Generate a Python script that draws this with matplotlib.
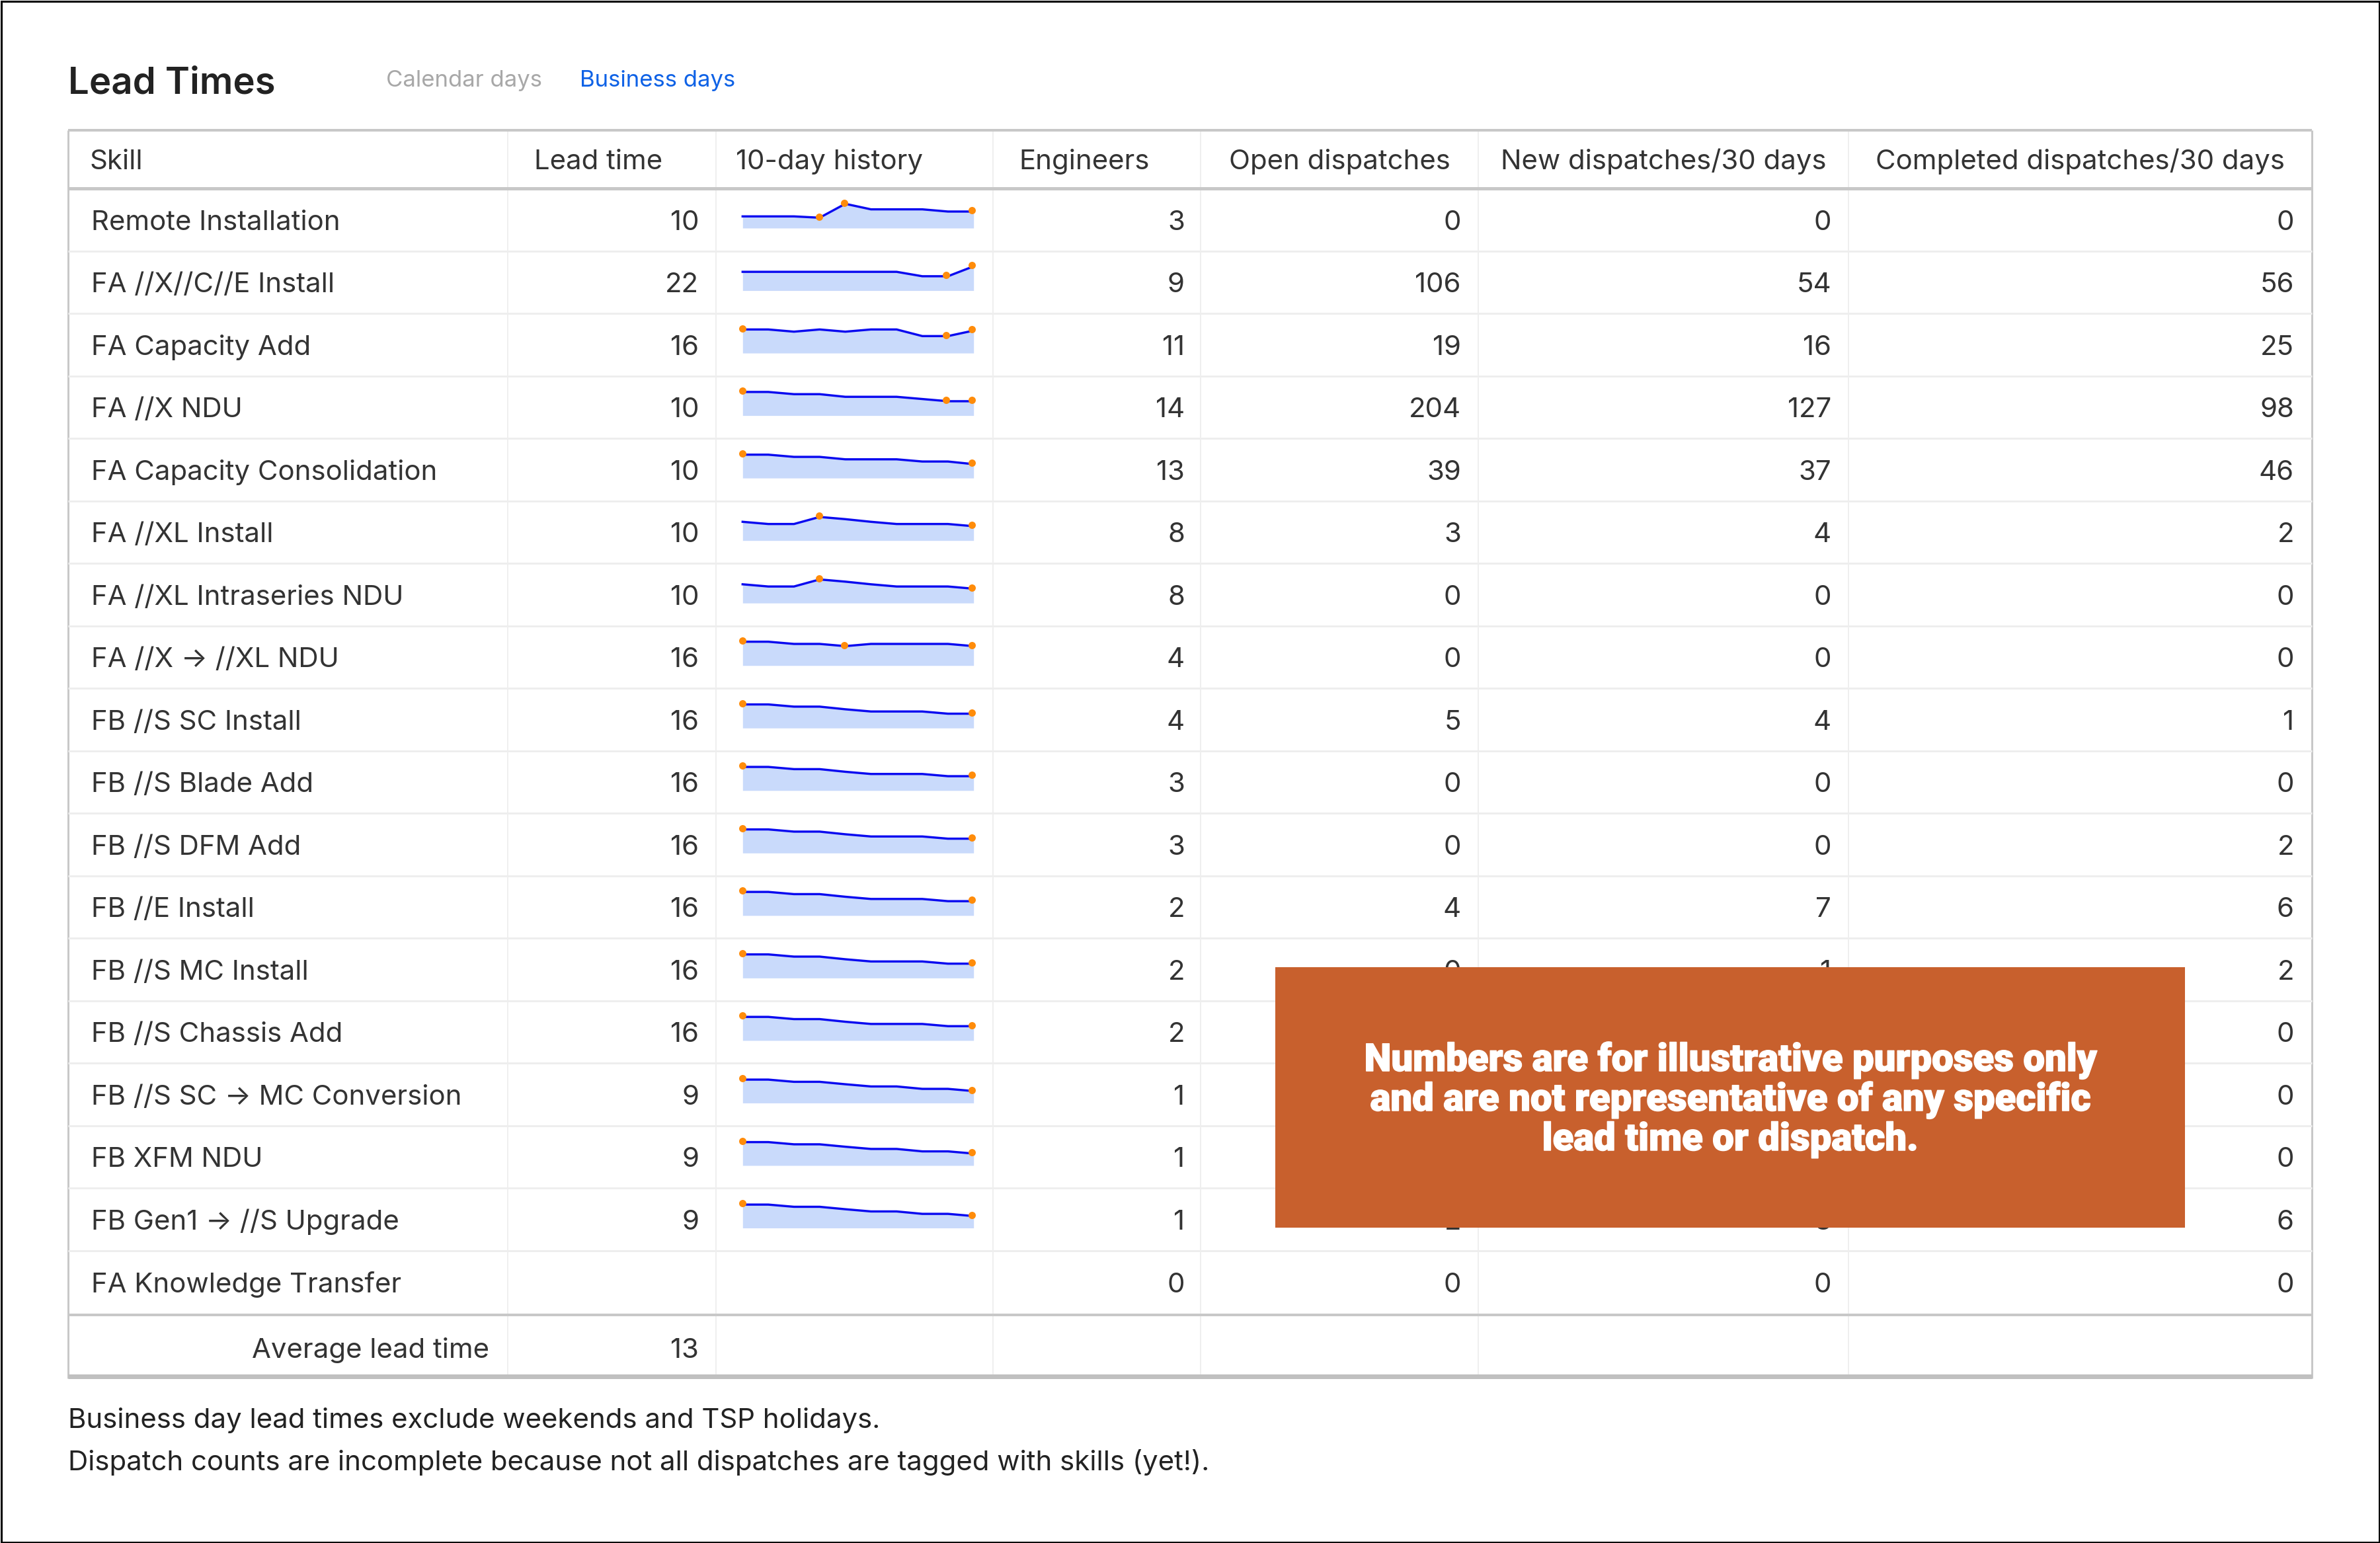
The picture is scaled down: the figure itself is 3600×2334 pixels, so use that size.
import matplotlib
matplotlib.use("Agg")
import matplotlib.pyplot as plt
import matplotlib.patheffects as pe
from matplotlib.patches import Rectangle
from matplotlib.transforms import offset_copy

W, H, DPI = 3600, 2334, 100
plt.rcParams['font.family'] = ['Inter', 'DejaVu Sans']

headers = ["Skill", "Lead time", "10-day history", "Engineers", "Open dispatches",
           "New dispatches/30 days", "Completed dispatches/30 days"]
skills = ["Remote Installation", "FA //X//C//E Install", "FA Capacity Add", "FA //X NDU",
          "FA Capacity Consolidation", "FA //XL Install", "FA //XL Intraseries NDU",
          "FA //X → //XL NDU", "FB //S SC Install", "FB //S Blade Add", "FB //S DFM Add",
          "FB //E Install", "FB //S MC Install", "FB //S Chassis Add",
          "FB //S SC → MC Conversion", "FB XFM NDU", "FB Gen1 → //S Upgrade", "FA Knowledge Transfer"]
lead_time = [10, 22, 16, 10, 10, 10, 10, 16, 16, 16, 16, 16, 16, 16, 9, 9, 9, None]
engineers = [3, 9, 11, 14, 13, 8, 8, 4, 4, 3, 3, 2, 2, 2, 1, 1, 1, 0]
open_disp = [0, 106, 19, 204, 39, 3, 0, 0, 5, 0, 0, 4, 0, 0, 0, 0, 2, 0]
new_disp = [0, 54, 16, 127, 37, 4, 0, 0, 4, 0, 0, 7, 1, 0, 0, 0, 3, 0]
completed = [0, 56, 25, 98, 46, 2, 0, 0, 1, 0, 2, 6, 2, 0, 0, 0, 6, 0]
average_lead = 13

# relative sparkline heights (no axis is shown)
h_remote = [53, 53, 53, 47, 110, 85, 85, 85, 75, 75]
h_xce = [85, 85, 85, 85, 85, 85, 85, 65, 65, 110]
h_cap = [107, 107, 97, 107, 97, 107, 107, 77, 77, 102]
h_xndu = [107, 107, 97, 97, 85, 85, 85, 75, 65, 65]
h_consol = [106, 106, 96, 96, 85, 85, 85, 75, 75, 63]
h_xl = [85, 75, 75, 107, 97, 85, 75, 75, 75, 65]
h_xlxl = [108, 108, 98, 98, 88, 98, 98, 98, 98, 88]
h_fb = [107, 107, 97, 97, 85, 75, 75, 75, 65, 65]
h_fb2 = [106, 106, 96, 96, 85, 75, 75, 64, 64, 54]
history = [h_remote, h_xce, h_cap, h_xndu, h_consol, h_xl, h_xl, h_xlxl,
           h_fb, h_fb, h_fb, h_fb, h_fb, h_fb, h_fb2, h_fb2, h_fb2, None]
marked = [[3, 4, 9], [8, 9], [0, 8, 9], [0, 8, 9], [0, 9], [3, 9], [3, 9], [0, 4, 9],
          [0, 9], [0, 9], [0, 9], [0, 9], [0, 9], [0, 9], [0, 9], [0, 9], [0, 9], []]
notes = ["Business day lead times exclude weekends and TSP holidays.",
         "Dispatch counts are incomplete because not all dispatches are tagged with skills (yet!)."]
banner = ["Numbers are for illustrative purposes only",
          "and are not representative of any specific",
          "lead time or dispatch."]

fig = plt.figure(figsize=(W / DPI, H / DPI), dpi=DPI, facecolor="white")
ax = fig.add_axes([0, 0, 1, 1])
ax.set_xlim(0, W)
ax.set_ylim(H, 0)
ax.axis("off")

px = 72 / DPI
TXT = "#333333"
FS = 30.2

L, R = 103, 3497
COLS = [768, 1083, 1502, 1816, 2236, 2796]
TOP, HEAD, BODY_END, FOOT_END = 197, 285, 1989, 2085
ROW = 94.53

def hl(y, c, w, x0=L, x1=R):
    ax.plot([x0, x1], [y, y], color=c, lw=w * px, solid_capstyle="butt", zorder=2)
def vl(x, y0, y1, c, w):
    ax.plot([x, x], [y0, y1], color=c, lw=w * px, solid_capstyle="butt", zorder=1)

for c in COLS:
    vl(c, TOP, FOOT_END, "#EFEFEF", 2)
for i in range(1, 18):
    hl(HEAD + ROW * i, "#EEEEEE", 3)
vl(L, TOP, FOOT_END, "#C8C8C8", 3)
vl(R, TOP, FOOT_END, "#C8C8C8", 3)
hl(TOP, "#C8C8C8", 4)
hl(HEAD, "#C8C8C8", 5)
hl(BODY_END, "#C8C8C8", 4)
hl(FOOT_END - 3.5, "#C0C0C0", 7)

# title and tabs
ax.text(103, 141, "Lead Times", fontsize=40.5, fontweight=600, color="#222222", va="baseline")
ax.text(584, 131, "Calendar days", fontsize=25, color="#A8A8A8", va="baseline")
ax.text(877, 131, "Business days", fontsize=25, color="#0F62E6", va="baseline")

# header
head_x = [135, 808, 1113, 1541, 1859, 2270, 2837]
for x, t in zip(head_x, headers):
    ax.text(x, 256.5, t, fontsize=FS, color=TXT, va="baseline")

# body
right_edges = [1057, 1792, 2210, 2770, 3470]
for i, name in enumerate(skills):
    yb = HEAD + ROW * i + 62.5
    ax.text(138, yb, name, fontsize=FS, color=TXT, va="baseline")
    cells = [lead_time[i], engineers[i], open_disp[i], new_disp[i], completed[i]]
    for x, v in zip(right_edges, cells):
        if v is not None:
            ax.text(x, yb, str(v), fontsize=FS, color=TXT, va="baseline", ha="right")

# footer row and notes
ax.text(740, 2054, "Average lead time", fontsize=FS, color=TXT, va="baseline", ha="right")
ax.text(1057, 2054, str(average_lead), fontsize=FS, color=TXT, va="baseline", ha="right")
ax.text(103, 2160, notes[0], fontsize=FS, color="#222222", va="baseline")
ax.text(103, 2224, notes[1], fontsize=FS, color="#222222", va="baseline")

# sparklines
SX0, SX1, SH = 1123.3, 1472.7, 36.7
xs = list(range(10))
for i, vals in enumerate(history):
    if vals is None:
        continue
    base = HEAD + ROW * i + 60
    sp = fig.add_axes([SX0 / W, 1 - base / H, (SX1 - SX0) / W, SH / H])
    sp.set_xlim(0, 9)
    sp.set_ylim(0, 110)
    sp.axis("off")
    sp.patch.set_alpha(0)
    sp.fill_between(xs, 0, vals, color="#C9DAFB", lw=0, clip_on=False, zorder=1)
    sp.plot(xs, vals, color="#0A0AF0", lw=3.4 * px, clip_on=False, zorder=2)
    m = marked[i]
    tr = offset_copy(sp.transData, fig=fig, y=1.7 * px, units="points")
    sp.plot([k * 0.991 for k in m], [vals[k] for k in m], ls="none", marker="o", ms=11 * px,
            mfc="#FF8C0A", mec="none", clip_on=False, zorder=3, transform=tr)

# banner overlay
over = fig.add_axes([0, 0, 1, 1], zorder=10)
over.set_xlim(0, W)
over.set_ylim(H, 0)
over.axis("off")
over.patch.set_alpha(0)
over.add_patch(Rectangle((1929, 1463), 1376, 394, facecolor="#C8602D", edgecolor="none"))
for y, line in zip([1620, 1680, 1740], banner):
    t = over.text(2617, y, line, fontsize=41.8, fontweight=900, family="Roboto", color="white",
                  ha="center", va="baseline")
    t.set_path_effects([pe.withStroke(linewidth=1.5 * px, foreground="white")])

# image frame
over.add_patch(Rectangle((1.5, 1.5), W - 3, H - 3, fill=False, edgecolor="black", lw=3 * px))

fig.savefig("out.png", dpi=DPI, facecolor="white")
